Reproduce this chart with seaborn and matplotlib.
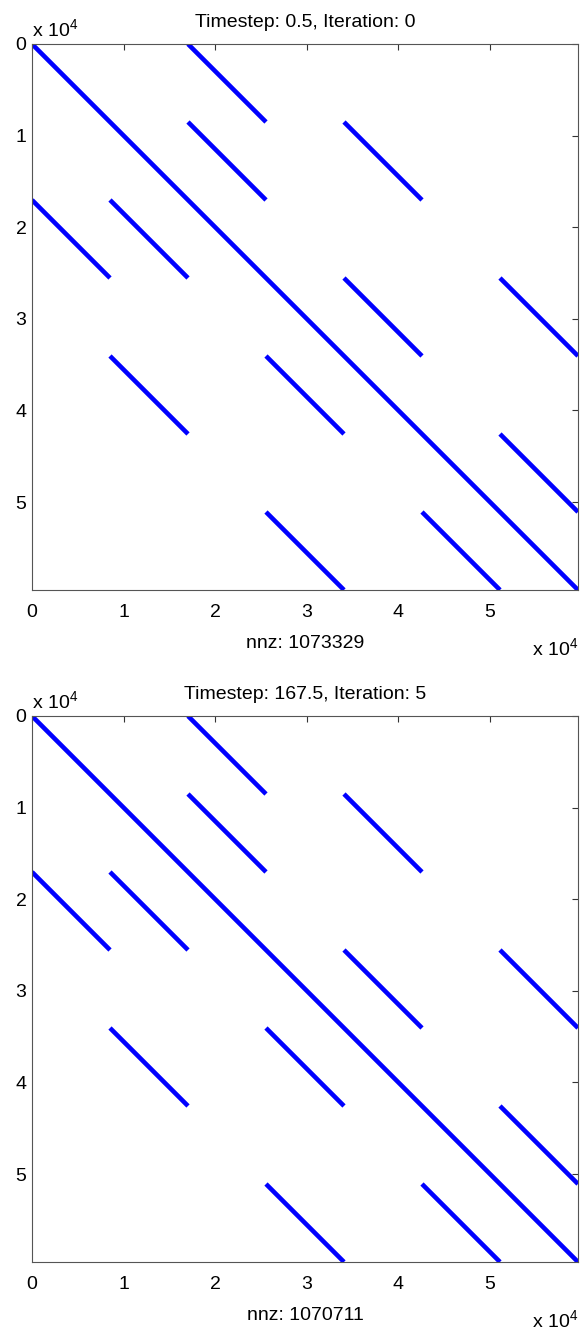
import pandas as pd
import matplotlib
matplotlib.use("Agg")
import matplotlib.pyplot as plt
import seaborn as sns

# matrix size and block layout
N = 59598
BLOCK = 8514
# off-diagonal blocks holding a diagonal band: (block row, block col)
band_rows = [0, 2, 1, 2, 1, 4, 3, 4, 3, 6, 5, 6]
band_cols = [2, 0, 2, 1, 4, 1, 4, 3, 6, 3, 6, 5]

titles = ["Timestep: 0.5, Iteration: 0", "Timestep: 167.5, Iteration: 5"]
nnz = [1073329, 1070711]

tick_vals = [0, 10000, 20000, 30000, 40000, 50000]
tick_labels = ["0", "1", "2", "3", "4", "5"]


def build_segments():
    rows = []
    # main diagonal
    rows.append({"seg": 0, "col": 0, "row": 0})
    rows.append({"seg": 0, "col": N, "row": N})
    for i, (r, c) in enumerate(zip(band_rows, band_cols), start=1):
        rows.append({"seg": i, "col": c * BLOCK, "row": r * BLOCK})
        rows.append({"seg": i, "col": (c + 1) * BLOCK, "row": (r + 1) * BLOCK})
    return pd.DataFrame(rows)


sns.set_style("white")
plt.rcParams["font.family"] = ["Liberation Sans", "DejaVu Sans"]
plt.rcParams["mathtext.default"] = "regular"
plt.rcParams["text.color"] = "black"
plt.rcParams["xtick.labelcolor"] = "black"
plt.rcParams["ytick.labelcolor"] = "black"
plt.rcParams["axes.labelcolor"] = "black"

df = build_segments()

W, H = 581, 1338
fig = plt.figure(figsize=(W / 100, H / 100), dpi=100)
axes = [
    fig.add_axes([32 / W, 1 - 590 / H, 546 / W, 546 / H]),
    fig.add_axes([32 / W, 1 - 1262 / H, 546 / W, 546 / H]),
]

FS = 14
for ax, title, nz in zip(axes, titles, nnz):
    sns.lineplot(data=df, x="col", y="row", units="seg", estimator=None,
                 sort=False, color="#0000ff", linewidth=3.3, ax=ax,
                 legend=False, solid_capstyle="butt")
    ax.set_xlim(0, N + 1)
    ax.set_ylim(N + 1, 0)
    ax.set_xticks(tick_vals)
    ax.set_xticklabels(tick_labels)
    ax.set_yticks(tick_vals)
    ax.set_yticklabels(tick_labels)
    ax.tick_params(axis="both", direction="in", length=4, width=0.8,
                   color="#333333", labelsize=FS, top=True, right=True)
    ax.tick_params(axis="x", pad=10)
    ax.tick_params(axis="y", pad=4)
    for sp in ax.spines.values():
        sp.set_color("#555555")
        sp.set_linewidth(0.8)
    ax.set_title(title, fontsize=FS, pad=12, color="black")
    ax.set_xlabel(f"nnz: {nz}", fontsize=FS, labelpad=10)
    ax.set_ylabel("")
    # MATLAB style exponent labels
    ax.annotate("x 10$^4$", xy=(0, 1), xycoords="axes fraction",
                xytext=(0, 6), textcoords="offset points",
                ha="left", va="baseline", fontsize=FS)
    ax.annotate("x 10$^4$", xy=(1, 0), xycoords="axes fraction",
                xytext=(0, -47), textcoords="offset points",
                ha="right", va="baseline", fontsize=FS)

fig.savefig("out.png", dpi=100)
